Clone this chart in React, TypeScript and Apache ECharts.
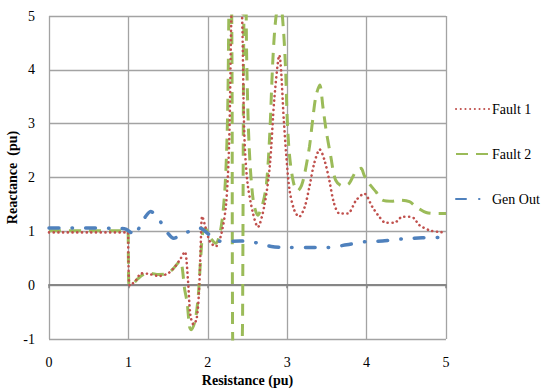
import React, { useEffect, useRef } from "react";
import * as echarts from "echarts";

const seriesNames = ["Fault 1", "Fault 2", "Gen Out"];

const fault1Points: [number, number][] = [
  [0, 0.98], [0.5, 0.98], [0.995, 0.98], [1.0, 0.5], [1.02, -0.01], [1.1, 0.1], [1.16, 0.22],
  [1.25, 0.21], [1.39, 0.17], [1.5, 0.22], [1.58, 0.33], [1.66, 0.5], [1.71, 0.62],
  [1.75, 0.1], [1.78, -0.55], [1.82, -0.73], [1.86, -0.62], [1.89, -0.1], [1.91, 0.7],
  [1.93, 1.28], [1.97, 1.08], [2.03, 0.8], [2.1, 0.72], [2.17, 0.95], [2.23, 1.5],
  [2.27, 2.7], [2.3, 5.2], [2.36, 7.5], [2.43, 5.1], [2.46, 2.8], [2.5, 1.9], [2.57, 1.33],
  [2.63, 1.08], [2.71, 1.46], [2.78, 2.2], [2.84, 3.5], [2.9, 4.27], [2.96, 3.0],
  [2.99, 2.38], [3.03, 1.76], [3.09, 1.39], [3.15, 1.27], [3.22, 1.45], [3.28, 1.83],
  [3.34, 2.26], [3.41, 2.52], [3.47, 2.32], [3.53, 1.95], [3.59, 1.52], [3.66, 1.33],
  [3.76, 1.33], [3.87, 1.58], [3.97, 1.7], [4.07, 1.46], [4.16, 1.27], [4.24, 1.16],
  [4.35, 1.16], [4.45, 1.27], [4.54, 1.27], [4.6, 1.24], [4.66, 1.12], [4.79, 1.02],
  [4.9, 0.99], [5.0, 0.98],
];

const fault2Points: [number, number][] = [
  [0, 1.01], [0.5, 1.01], [0.995, 1.01], [1.0, 0.5], [1.01, 0.0], [1.06, 0.03], [1.12, 0.12],
  [1.18, 0.19], [1.27, 0.22], [1.38, 0.2], [1.48, 0.21], [1.56, 0.3], [1.65, 0.45],
  [1.71, -0.09], [1.74, -0.33], [1.77, -0.77], [1.79, -0.83], [1.84, -0.66], [1.88, -0.2],
  [1.91, 0.5], [1.94, 1.02], [1.97, 1.05], [2.03, 0.88], [2.1, 0.78], [2.17, 1.1],
  [2.22, 1.9], [2.25, 3.2], [2.27, 5.5], [2.29, 6.2], [2.305, 4.0], [2.31, 0.0],
  [2.32, -1.5], [2.38, -2.2], [2.43, -1.2], [2.44, 0.0], [2.45, 4.0], [2.46, 5.5],
  [2.475, 6.0], [2.49, 4.2], [2.52, 2.6], [2.57, 1.6], [2.63, 1.3], [2.69, 1.5],
  [2.74, 1.9], [2.78, 2.8], [2.82, 4.2], [2.86, 5.0], [2.91, 5.3], [2.95, 4.8],
  [2.98, 4.0], [3.0, 3.1], [3.03, 2.4], [3.08, 1.9], [3.13, 1.75], [3.18, 1.85],
  [3.22, 2.07], [3.28, 2.57], [3.32, 3.06], [3.36, 3.5], [3.41, 3.72], [3.45, 3.31],
  [3.49, 2.88], [3.55, 2.38], [3.61, 1.95], [3.7, 1.84], [3.78, 1.89], [3.87, 2.13],
  [3.93, 2.17], [3.97, 2.04], [4.03, 1.89], [4.12, 1.73], [4.2, 1.58], [4.33, 1.56],
  [4.41, 1.58], [4.54, 1.55], [4.62, 1.46], [4.75, 1.35], [4.91, 1.33], [5.0, 1.33],
];

const genOutPoints: [number, number][] = [
  [0, 1.06], [0.5, 1.06], [0.95, 1.05], [1.03, 0.98], [1.08, 0.92], [1.13, 1.05],
  [1.2, 1.24], [1.28, 1.37], [1.33, 1.32], [1.39, 1.21], [1.5, 0.96], [1.57, 0.87],
  [1.65, 0.92], [1.75, 0.99], [1.9, 1.06], [2.0, 0.96], [2.1, 0.84], [2.2, 0.81],
  [2.4, 0.82], [2.6, 0.79], [2.8, 0.72], [3.0, 0.7], [3.3, 0.7], [3.5, 0.7],
  [3.75, 0.75], [4.0, 0.81], [4.2, 0.82], [4.45, 0.86], [4.7, 0.88], [5.0, 0.89],
];

const FONT = "Liberation Serif";

export default function App() {
  const ref = useRef<HTMLDivElement>(null);
  useEffect(() => {
    const chart = echarts.init(ref.current!, undefined, { renderer: "svg" });
    const gridLine = { show: true, lineStyle: { color: "#a3a3a3", width: 1.3 } };
    chart.setOption({
      animation: false,
      backgroundColor: "#ffffff",
      textStyle: { fontFamily: FONT },
      grid: { left: 49, top: 16, width: 397, height: 323, containLabel: false, outerBoundsMode: "none" },
      legend: {
        orient: "vertical",
        left: 450,
        top: 97,
        itemWidth: 34,
        itemHeight: 14,
        itemGap: 31,
        data: seriesNames,
        itemStyle: { opacity: 0 },
        textStyle: { fontFamily: FONT, fontSize: 14, color: "#000", padding: [0, 0, 0, -3] },
      },
      xAxis: [
        {
          type: "value",
          min: 0,
          max: 5,
          interval: 1,
          position: "bottom",
          axisLine: { show: false, onZero: false },
          axisTick: { show: false },
          axisLabel: { margin: 16, fontFamily: FONT, fontSize: 14, color: "#000" },
          splitLine: gridLine,
          name: "Resistance (pu)",
          nameLocation: "middle",
          nameGap: 34,
          nameMoveOverlap: false,
          nameTextStyle: { fontFamily: FONT, fontSize: 14, fontWeight: "bold", color: "#000" },
        },
        {
          type: "value",
          min: 0,
          max: 5,
          interval: 1,
          position: "bottom",
          axisLine: { show: true, onZero: true, lineStyle: { color: "#868686", width: 2 } },
          axisTick: { show: true, length: 3, lineStyle: { color: "#868686", width: 1.5 } },
          axisLabel: { show: false },
          splitLine: { show: false },
        },
      ],
      yAxis: {
        type: "value",
        min: -1,
        max: 5,
        interval: 1,
        axisLine: { show: false },
        axisTick: { show: false },
        axisLabel: { margin: 14, fontFamily: FONT, fontSize: 14, color: "#000" },
        splitLine: gridLine,
        name: "Reactance  (pu)",
        nameLocation: "middle",
        nameGap: 30,
        nameMoveOverlap: false,
        nameRotate: 90,
        nameTextStyle: { fontFamily: FONT, fontSize: 14, fontWeight: "bold", color: "#000" },
      },
      series: [
        {
          name: seriesNames[0],
          type: "line",
          data: fault1Points,
          symbol: "none",
          smooth: 0.3,
          z: 4,
          itemStyle: { color: "#C0504D" },
          lineStyle: { color: "#C0504D", width: 2.6, type: [0.1, 4.6], cap: "round" },
        },
        {
          name: seriesNames[1],
          type: "line",
          data: fault2Points,
          symbol: "none",
          smooth: 0.3,
          z: 3,
          itemStyle: { color: "#9BBB59" },
          lineStyle: { color: "#9BBB59", width: 3, type: [12, 8], cap: "butt" },
        },
        {
          name: seriesNames[2],
          type: "line",
          data: genOutPoints,
          symbol: "none",
          smooth: 0.3,
          z: 5,
          itemStyle: { color: "#4F81BD" },
          lineStyle: { color: "#4F81BD", width: 3.5, type: [10, 13, 0.5, 13], cap: "round" },
        },
      ],
    });
    return () => chart.dispose();
  }, []);
  return <div ref={ref} style={{ position: "fixed", left: 0, top: 0, width: 547, height: 392 }} />;
}
